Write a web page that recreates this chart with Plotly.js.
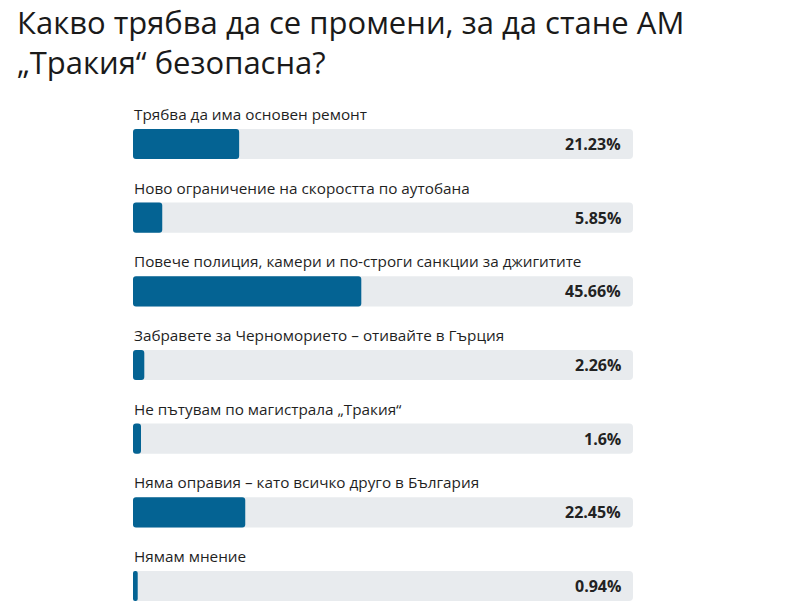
<!DOCTYPE html>
<html>
<head>
<meta charset="utf-8">
<script src="https://cdn.plot.ly/plotly-3.0.1.min.js"></script>
<style>
  html, body { margin: 0; padding: 0; background: #fff; }
  #chart { width: 794px; height: 615px; }
</style>
</head>
<body>
<div id="chart"></div>
<script>
// Poll answers and their shares (%)
const answers = [
  "Трябва да има основен ремонт",
  "Ново ограничение на скоростта по аутобана",
  "Повече полиция, камери и по-строги санкции за джигитите",
  "Забравете за Черноморието – отивайте в Гърция",
  "Не пътувам по магистрала „Тракия“",
  "Няма оправия – като всичко друго в България",
  "Нямам мнение"
];
const shares = [21.23, 5.85, 45.66, 2.26, 1.6, 22.45, 0.94];
const shareLabels = ["21.23%", "5.85%", "45.66%", "2.26%", "1.6%", "22.45%", "0.94%"];
const fullScale = 100;

const rows = answers.map((_, i) => i);

// Track (grey) behind each answer, rounded at its right end
const track = {
  type: "bar",
  orientation: "h",
  y: rows,
  x: rows.map(() => fullScale),
  base: 0,
  width: 0.41,
  marker: { color: "#e8ebee", cornerradius: 4 },
  hoverinfo: "skip",
  showlegend: false
};

// Filled share, drawn from its end back to zero so the left end is rounded
const fill = {
  type: "bar",
  orientation: "h",
  y: rows,
  x: shares.map(v => -v),
  base: shares,
  width: 0.41,
  marker: { color: "#046393", cornerradius: 3 },
  hoverinfo: "skip",
  showlegend: false
};

const labelFont = { family: "Open Sans, Noto Sans, sans-serif", size: 15.3, color: "#1f1f1f" };
const valueFont = { family: "Open Sans, Noto Sans, sans-serif", size: 16, color: "#222", weight: 700 };

const annotations = [];
answers.forEach((txt, i) => {
  annotations.push({
    x: 0, y: i, xref: "x", yref: "y",
    text: txt, showarrow: false,
    xanchor: "left", yanchor: "middle",
    xshift: -1, yshift: 30, font: labelFont
  });
  annotations.push({
    x: fullScale, y: i, xref: "x", yref: "y",
    text: "<b>" + shareLabels[i] + "</b>", showarrow: false,
    xanchor: "right", yanchor: "middle",
    xshift: -10, font: valueFont
  });
});

const layout = {
  width: 794,
  height: 615,
  paper_bgcolor: "#ffffff",
  plot_bgcolor: "#ffffff",
  margin: { l: 133, r: 161, t: 70, b: 5 },
  barmode: "overlay",
  title: {
    text: "Какво трябва да се промени, за да стане АМ<br>„Тракия“ безопасна?",
    x: 17 / 794, xref: "container", xanchor: "left",
    y: 1 - 34 / 615, yref: "container", yanchor: "top",
    font: { family: "Open Sans, Noto Sans, sans-serif", size: 31, color: "#1a1a1a" }
  },
  xaxis: {
    range: [0, fullScale],
    visible: false,
    fixedrange: true
  },
  yaxis: {
    range: [6.326, -1.0045],
    visible: false,
    fixedrange: true
  },
  annotations: annotations
};

Plotly.newPlot("chart", [track, fill], layout, { displayModeBar: false, staticPlot: true });
</script>
</body>
</html>
